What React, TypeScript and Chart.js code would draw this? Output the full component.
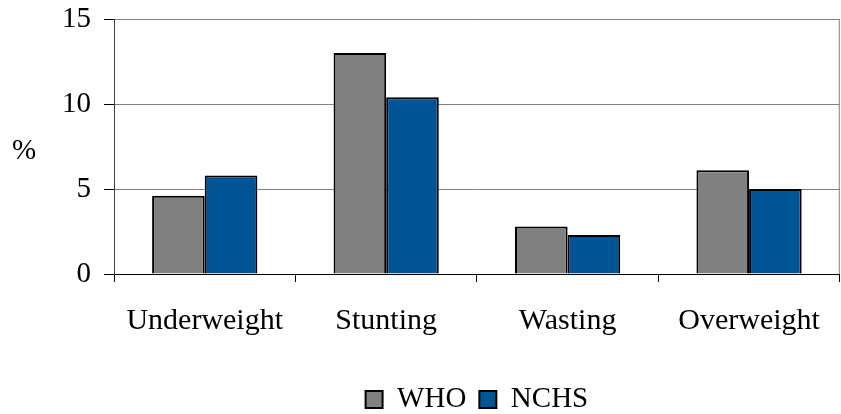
import React, { useEffect, useRef } from "react";
import { Chart, registerables } from "chart.js";

Chart.register(...registerables);

const categories = ["Underweight", "Stunting", "Wasting", "Overweight"];
const whoValues = [4.6, 13.0, 2.8, 6.1];
const nchsValues = [5.8, 10.4, 2.3, 5.0];
const seriesNames = ["WHO", "NCHS"];
const yTicks = [0, 5, 10, 15];

const FONT = '"Liberation Serif", "Times New Roman", serif';

const extras = {
  id: "extras",
  afterDraw(chart: any) {
    const { ctx, chartArea } = chart;
    ctx.save();
    ctx.strokeStyle = "#808080";
    ctx.lineWidth = 1;
    ctx.beginPath();
    ctx.moveTo(chartArea.right - 0.5, chartArea.top);
    ctx.lineTo(chartArea.right - 0.5, chartArea.bottom);
    ctx.stroke();
    ctx.fillStyle = "#000";
    ctx.font = "29px " + FONT;
    ctx.textAlign = "center";
    ctx.textBaseline = "middle";
    ctx.fillText("%", 24, 151);
    ctx.restore();
  },
};

export default function App() {
  const ref = useRef<HTMLCanvasElement | null>(null);
  useEffect(() => {
    if (!ref.current) return;
    const chart = new Chart(ref.current, {
      type: "bar",
      data: {
        labels: categories,
        datasets: [
          {
            label: seriesNames[0],
            data: whoValues,
            backgroundColor: "#808080",
            borderColor: "#000",
            borderWidth: 2,
            categoryPercentage: 0.58,
            barPercentage: 1,
          },
          {
            label: seriesNames[1],
            data: nchsValues,
            backgroundColor: "#005596",
            borderColor: "#000",
            borderWidth: 2,
            categoryPercentage: 0.58,
            barPercentage: 1,
          },
        ],
      },
      options: {
        animation: false,
        responsive: true,
        maintainAspectRatio: false,
        layout: { padding: { top: 0, right: 1, left: 0, bottom: -10 } },
        plugins: {
          tooltip: { enabled: false },
          legend: {
            position: "bottom",
            fullSize: false,
            labels: {
              boxWidth: 17,
              boxHeight: 17,
              padding: 13,
              color: "#000",
              font: { family: FONT, size: 29 },
            },
          },
        },
        scales: {
          x: {
            grid: {
              display: true,
              drawOnChartArea: false,
              drawTicks: true,
              tickLength: 8,
              color: "#000",
              offset: true,
            },
            border: { display: true, color: "#000", width: 1 },
            ticks: {
              color: "#000",
              padding: 21,
              font: { family: FONT, size: 30 },
              maxRotation: 0,
            },
            afterFit(scale: any) {
              scale.height = 98;
            },
          },
          y: {
            min: 0,
            max: 15,
            afterBuildTicks(scale: any) {
              scale.ticks = yTicks.map((v) => ({ value: v }));
            },
            grid: {
              color: "#808080",
              lineWidth: 1,
              tickLength: 10,
              tickColor: "#000",
            },
            border: { display: true, color: "#404040", width: 1 },
            ticks: {
              color: "#000",
              padding: 13,
              font: { family: FONT, size: 29 },
            },
            afterFit(scale: any) {
              scale.width = 114;
              scale.paddingTop = 19;
              scale.paddingBottom = 0;
            },
          },
        },
      },
      plugins: [extras],
    });
    return () => chart.destroy();
  }, []);
  return (
    <div style={{ position: "fixed", left: 0, top: 0, width: 841, height: 414 }}>
      <canvas ref={ref} />
    </div>
  );
}
